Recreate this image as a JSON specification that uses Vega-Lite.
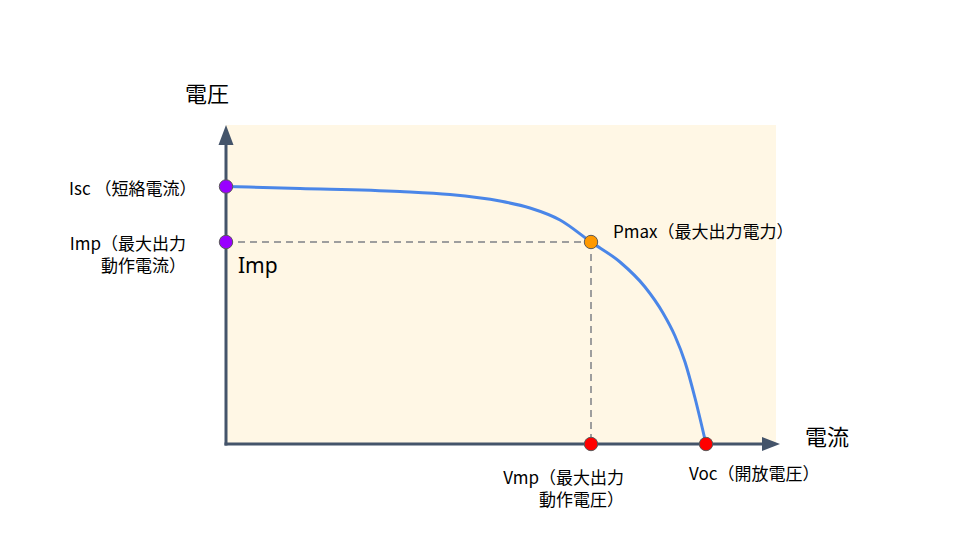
{
  "$schema": "https://vega.github.io/schema/vega-lite/v6.json",
  "width": 960,
  "height": 540,
  "autosize": {"type": "fit", "contains": "padding"},
  "padding": 0,
  "background": "#ffffff",
  "config": {"view": {"stroke": null}},
  "datasets": {
    "bg": [{"x": 0, "x2": 110, "y": 0, "y2": 79.75}],
    "axes": [
      {"x": 0, "y": -0.4, "x2": 0, "y2": 75.5},
      {"x": -0.3, "y": 0, "x2": 108, "y2": 0}
    ],
    "arrowY": [{"x": 0, "y": 77.25}],
    "arrowX": [{"x": 109, "y": 0}],
    "dashes": [
      {"x": 0, "y": 50.5, "x2": 73, "y2": 50.5},
      {"x": 73, "y": 50.5, "x2": 73, "y2": 0}
    ],
    "curve": [
      {"v": 0, "i": 64.375},
      {"v": 14.8, "i": 63.875},
      {"v": 34.8, "i": 63.125},
      {"v": 44.8, "i": 62.375},
      {"v": 54.8, "i": 60.75},
      {"v": 60.8, "i": 59},
      {"v": 66.8, "i": 56},
      {"v": 73, "i": 50.5},
      {"v": 78.8, "i": 45.5},
      {"v": 83.8, "i": 39.25},
      {"v": 87.4, "i": 32.75},
      {"v": 89.8, "i": 27},
      {"v": 91.8, "i": 20.5},
      {"v": 93.8, "i": 11.5},
      {"v": 96, "i": 0}
    ],
    "points": [
      {"v": 0, "i": 64.375, "group": "current"},
      {"v": 0, "i": 50.5, "group": "current"},
      {"v": 73, "i": 50.5, "group": "power"},
      {"v": 73, "i": 0, "group": "voltage"},
      {"v": 96, "i": 0, "group": "voltage"}
    ],
    "labels": [
      {"x": -31.4, "y": 63.5, "text": "Isc （短絡電流）"},
      {"x": 77.4, "y": 52.75, "text": "Pmax（最大出力電力）"},
      {"x": 92.6, "y": -7.75, "text": "Voc（開放電圧）"}
    ],
    "multiLabels": [
      {"x": -8.0, "y": 49.75, "text": ["Imp（最大出力", "動作電流）"]},
      {"x": 79.6, "y": -8.75, "text": ["Vmp（最大出力", "動作電圧）"]}
    ],
    "impLabel": [{"x": 2.4, "y": 44.25, "text": "Imp"}],
    "titles": [
      {"x": -8.2, "y": 87.25, "text": "電圧"},
      {"x": 115.8, "y": 1.5, "text": "電流"}
    ]
  },
  "layer": [
    {
      "data": {"name": "bg"},
      "mark": {"type": "rect", "color": "#fff7e5"},
      "encoding": {
        "x": {"field": "x", "type": "quantitative", "scale": {"domain": [-45.2, 146.8], "nice": false, "zero": false}, "axis": null},
        "x2": {"field": "x2"},
        "y": {"field": "y", "type": "quantitative", "scale": {"domain": [-24, 111], "nice": false, "zero": false}, "axis": null},
        "y2": {"field": "y2"}
      }
    },
    {
      "data": {"name": "dashes"},
      "mark": {"type": "rule", "color": "#9e9e9e", "strokeWidth": 2, "strokeDash": [7, 5]},
      "encoding": {
        "x": {"field": "x", "type": "quantitative", "axis": null},
        "x2": {"field": "x2"},
        "y": {"field": "y", "type": "quantitative", "axis": null},
        "y2": {"field": "y2"}
      }
    },
    {
      "data": {"name": "axes"},
      "mark": {"type": "rule", "color": "#44546a", "strokeWidth": 3},
      "encoding": {
        "x": {"field": "x", "type": "quantitative", "axis": null},
        "x2": {"field": "x2"},
        "y": {"field": "y", "type": "quantitative", "axis": null},
        "y2": {"field": "y2"}
      }
    },
    {
      "data": {"name": "arrowY"},
      "mark": {"type": "point", "shape": "M0,-1L-0.75,1L0.75,1Z", "size": 400, "filled": true, "color": "#44546a", "opacity": 1},
      "encoding": {
        "x": {"field": "x", "type": "quantitative", "axis": null},
        "y": {"field": "y", "type": "quantitative", "axis": null}
      }
    },
    {
      "data": {"name": "arrowX"},
      "mark": {"type": "point", "shape": "M1,0L-1,-0.78L-1,0.78Z", "size": 324, "filled": true, "color": "#44546a", "opacity": 1},
      "encoding": {
        "x": {"field": "x", "type": "quantitative", "axis": null},
        "y": {"field": "y", "type": "quantitative", "axis": null}
      }
    },
    {
      "data": {"name": "curve"},
      "mark": {"type": "line", "color": "#4a86e8", "strokeWidth": 3, "interpolate": "monotone"},
      "encoding": {
        "x": {"field": "v", "type": "quantitative", "axis": null},
        "y": {"field": "i", "type": "quantitative", "axis": null}
      }
    },
    {
      "data": {"name": "points"},
      "mark": {"type": "point", "shape": "circle", "filled": true, "size": 180, "stroke": "#595959", "strokeWidth": 1, "opacity": 1},
      "encoding": {
        "x": {"field": "v", "type": "quantitative", "axis": null},
        "y": {"field": "i", "type": "quantitative", "axis": null},
        "color": {"field": "group", "type": "nominal", "scale": {"domain": ["current", "power", "voltage"], "range": ["#9900ff", "#ff9900", "#ff0000"]}, "legend": null}
      }
    },
    {
      "data": {"name": "labels"},
      "mark": {"type": "text", "align": "left", "baseline": "middle", "fontSize": 17, "font": "Noto Sans CJK JP", "color": "#000000"},
      "encoding": {
        "x": {"field": "x", "type": "quantitative", "axis": null},
        "y": {"field": "y", "type": "quantitative", "axis": null},
        "text": {"field": "text"}
      }
    },
    {
      "data": {"name": "multiLabels"},
      "mark": {"type": "text", "align": "right", "baseline": "middle", "fontSize": 17, "lineHeight": 22, "font": "Noto Sans CJK JP", "color": "#000000"},
      "encoding": {
        "x": {"field": "x", "type": "quantitative", "axis": null},
        "y": {"field": "y", "type": "quantitative", "axis": null},
        "text": {"field": "text"}
      }
    },
    {
      "data": {"name": "impLabel"},
      "mark": {"type": "text", "align": "left", "baseline": "middle", "fontSize": 21, "font": "Noto Sans, Noto Sans CJK JP", "color": "#000000"},
      "encoding": {
        "x": {"field": "x", "type": "quantitative", "axis": null},
        "y": {"field": "y", "type": "quantitative", "axis": null},
        "text": {"field": "text"}
      }
    },
    {
      "data": {"name": "titles"},
      "mark": {"type": "text", "align": "left", "baseline": "middle", "fontSize": 22, "font": "Noto Sans CJK JP", "color": "#000000"},
      "encoding": {
        "x": {"field": "x", "type": "quantitative", "axis": null},
        "y": {"field": "y", "type": "quantitative", "axis": null},
        "text": {"field": "text"}
      }
    }
  ]
}
